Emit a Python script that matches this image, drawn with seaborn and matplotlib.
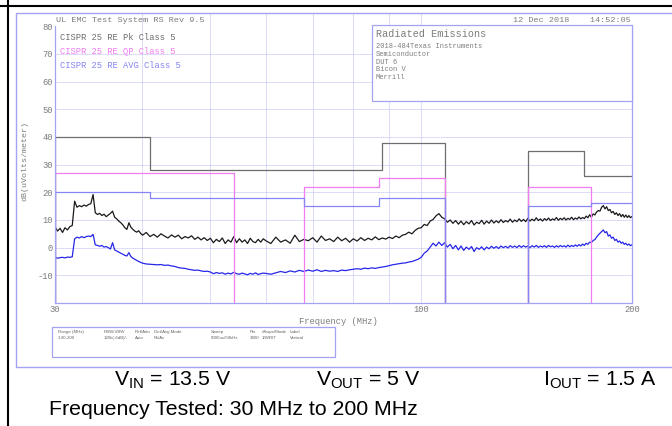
"""Radiated emissions scan (CISPR 25 class 5) redrawn with seaborn."""

import matplotlib
matplotlib.use("Agg")
import matplotlib.pyplot as plt
from matplotlib.lines import Line2D
from matplotlib.patches import Rectangle
from matplotlib.ticker import NullLocator
import pandas as pd
import seaborn as sns

W, H = 672, 426

# sweep frequencies (MHz) and the levels
FREQ_MHZ = [
    30, 30.25, 30.5, 30.75, 31, 31.25, 31.5, 31.75, 32, 32.25,
    32.5, 32.75, 33, 33.25, 33.5, 33.75, 34, 34.25, 34.5, 34.75,
    35, 35.25, 35.5, 35.75, 36, 36.25, 36.5, 36.75, 37, 37.25,
    37.5, 37.75, 38, 38.25, 38.5, 38.75, 39, 39.25, 39.5, 39.75,
    40, 40.5, 41, 41.5, 42, 42.5, 43, 43.5, 44, 44.5,
    45, 45.5, 46, 46.5, 47, 47.5, 48, 48.5, 49, 49.5,
    50, 50.5, 51, 51.5, 52, 52.5, 53, 53.5, 54, 54.5,
    55, 55.5, 56, 56.5, 57, 57.5, 58, 58.5, 59, 59.5,
    60, 61, 62, 63, 64, 65, 66, 67, 68, 69,
    70, 71, 72, 73, 74, 75, 76, 77, 78, 79,
    80, 81, 82, 83, 84, 85, 86, 87, 88, 89,
    90, 91, 92, 93, 94, 95, 96, 97, 98, 99,
    100, 101, 102, 103, 104, 105, 106, 107, 108, 109,
    110, 111, 112, 113, 114, 115, 116, 117, 118, 119,
    120, 121, 122, 123, 124, 125, 126, 127, 128, 129,
    130, 131, 132, 133, 134, 135, 136, 137, 138, 139,
    140, 141, 142, 143, 144, 145, 146, 147, 148, 149,
    150, 151, 152, 153, 154, 155, 156, 157, 158, 159,
    160, 161, 162, 163, 164, 165, 166, 167, 168, 169,
    170, 171, 172, 173, 174, 175, 176, 177, 178, 179,
    180, 181, 182, 183, 184, 185, 186, 187, 188, 189,
    190, 191, 192, 193, 194, 195, 196, 197, 198, 199,
    200,
]

PEAK_DBUV = [
    7.5, 6.0, 7.0, 5.5, 7.2, 6.4, 7.6, 8.0, 16.8, 14.6,
    15.2, 14.8, 15.4, 15.0, 15.6, 15.9, 19.2, 12.6, 12.0, 12.4,
    11.6, 12.1, 11.2, 11.8, 12.4, 13.2, 11.0, 10.4, 9.6, 9.0,
    8.2, 7.2, 6.6, 9.0, 7.4, 6.6, 6.0, 5.6, 6.1, 5.2,
    4.5, 5.5, 4.0, 4.8, 3.8, 5.0, 4.2, 3.5, 4.6, 3.8,
    4.5, 3.2, 4.0, 3.5, 4.3, 3.0, 3.8, 2.8, 3.6, 2.6,
    3.4, 1.8, 3.0, 2.2, 3.5, 1.5, 2.8, 2.0, 4.0, 1.8,
    3.2, 2.0, 2.8, 1.5, 3.4, 2.2, 1.8, 3.0, 2.0, 3.2,
    2.5, 1.5, 3.8, 2.0, 2.8, 1.6, 4.5, 2.2, 3.0, 2.5,
    3.6, 2.0, 4.2, 2.6, 3.2, 2.2, 3.8, 2.5, 3.4, 2.0,
    3.2, 2.4, 3.6, 2.6, 3.4, 2.8, 3.9, 2.9, 3.5, 3.1,
    3.8, 3.3, 4.2, 3.6, 4.5, 4.8, 5.6, 5.0, 6.2, 7.0,
    7.2, 8.4, 8.0, 9.6, 10.2, 11.5, 12.3, 11.0, 10.4, 9.2,
    10.0, 8.8, 9.8, 8.5, 9.6, 8.3, 9.4, 8.6, 9.8, 8.2,
    9.2, 8.7, 9.9, 8.5, 9.6, 8.8, 10.0, 8.9, 9.7, 9.0,
    10.1, 9.1, 9.8, 9.3, 10.3, 9.2, 10.0, 9.4, 10.4, 9.5,
    10.2, 9.4, 10.6, 9.6, 10.3, 9.7, 10.8, 9.8, 10.4, 9.6,
    10.5, 9.9, 10.7, 9.8, 10.4, 10.0, 10.9, 9.9, 10.6, 10.1,
    10.8, 10.0, 10.6, 10.2, 11.0, 10.1, 10.7, 10.3, 11.1, 10.4,
    10.9, 10.5, 11.4, 10.8, 11.9, 11.0, 12.2, 11.8, 12.9, 13.4,
    13.2, 14.6, 15.2, 14.0, 14.8, 13.4, 13.8, 12.6, 13.1, 12.0,
    12.6, 11.6, 12.3, 11.2, 12.0, 11.0, 11.8, 10.9, 11.6, 10.8,
    11.3,
]

AVG_DBUV = [
    -3.5, -3.8, -3.6, -3.5, -3.7, -3.4, -3.5, -3.3, 3.2, 3.8,
    3.5, 4.0, 3.6, 4.0, 4.2, 4.0, 4.8, 1.0, 0.8, 0.5,
    0.8, 0.2, 0.4, 0.0, -0.5, 1.8, -0.8, -1.2, -1.6, -2.0,
    -2.4, -2.8, -3.0, -1.8, -3.2, -3.8, -4.2, -4.6, -5.0, -5.3,
    -5.6, -5.9, -6.0, -6.1, -6.2, -6.1, -6.4, -6.3, -6.6, -6.8,
    -7.2, -7.4, -7.5, -7.8, -8.0, -8.2, -8.1, -8.4, -8.6, -8.5,
    -8.8, -9.4, -9.0, -9.3, -9.1, -9.6, -9.2, -9.5, -8.9, -9.4,
    -9.6, -9.2, -9.5, -9.8, -9.3, -9.6, -9.1, -9.7, -9.4, -9.2,
    -9.3, -9.6, -9.1, -8.6, -9.0, -8.4, -8.8, -8.2, -8.6, -8.1,
    -8.5, -8.0, -8.6, -8.2, -8.5, -8.3, -8.6, -8.1, -8.3, -8.0,
    -7.8, -7.6, -7.8, -7.4, -7.6, -7.3, -7.5, -7.2, -7.0, -6.8,
    -6.5, -6.2, -6.0, -5.8, -5.6, -5.5, -5.2, -5.0, -4.6, -4.2,
    -3.5, -2.0, -1.2, 0.2, 1.6, 0.6, 2.0, 0.8, 1.8, 0.2,
    1.2, -0.4, 0.8, -0.8, 0.6, -1.0, 0.2, -0.6, 0.4, -1.4,
    0.0, -0.6, 0.3, -0.8, 0.2, -0.4, 0.5, -0.2, 0.4, -0.3,
    0.6, 0.0, 0.5, -0.1, 0.7, 0.1, 0.6, 0.0, 0.8, 0.1,
    0.7, 0.2, 0.6, 0.0, 0.7, 0.2, 0.8, 0.1, 0.6, 0.2,
    0.7, 0.1, 0.8, 0.3, 0.6, 0.1, 0.7, 0.2, 0.8, 0.3,
    0.7, 0.2, 0.9, 0.3, 0.8, 0.4, 1.0, 0.5, 1.1, 0.6,
    1.3, 0.8, 1.6, 1.2, 2.0, 1.8, 2.6, 2.9, 3.8, 4.6,
    5.2, 5.8, 6.4, 5.4, 5.8, 4.2, 4.6, 3.4, 3.8, 2.6,
    3.0, 2.0, 2.4, 1.6, 2.0, 1.2, 1.6, 0.9, 1.3, 0.7,
    1.1,
]

# limit bands: (start MHz, stop MHz, level dB(uV/m))
PK_LIMIT = [(30, 41, 40), (41, 88, 28), (88, 108, 38), (142, 171, 35), (171, 200, 26)]
QP_LIMIT = [(30, 54, 27), (68, 87, 22), (87, 108, 25), (142, 175, 22)]
AVG_LIMIT = [(30, 41, 20), (41, 68, 18), (68, 87, 15), (87, 108, 18), (142, 175, 15), (175, 200, 16)]

LEGEND = ["CISPR 25 RE Pk Class 5", "CISPR 25 RE QP Class 5", "CISPR 25 RE AVG Class 5"]
X_TICKS = [30, 100, 200]
Y_TICKS = [-20, -10, 0, 10, 20, 30, 40, 50, 60, 70, 80]
Y_LABELS = ["", "-10", "0", "10", "20", "30", "40", "50", "60", "70", "80"]
GRID_MHZ = [40, 50, 60, 70, 80, 90, 100]
GRID_DB = [-10, 0, 10, 20, 30, 40, 50, 60, 70]

INFO_HEAD = ["Range (MHz)", "RBW/VBW", "Ref/Attn", "Det/Avg Mode", "Sweep", "Pts.", "#Swps/Mode", "Label"]
INFO_VALS = ["1:30-200", "120k(-6dB)/-", "Auto", "Pk/Av", "5000us/50kHz", "3400", "1/WRIT", "Vertical"]
BOX_LINES = ["2018-484Texas Instruments", "Semiconductor", "DUT 6", "Bicon V", "Merrill"]

FRAME = "#a3a3f2"
GRID = "#9d9df0"
TXT = "#7c7c7c"
PK_COL = "#6e6e6e"
QP_COL = "#f07cf0"
AVG_COL = "#8585f5"


def limit_frame(bands, floor=-20.0, fmax=200):
    """Turn a list of limit bands into step vertices, one unit per joined run."""
    rows = []
    seg = 0
    prev_stop = None
    for start, stop, level in bands:
        if prev_stop is None:
            rows.append((start, floor, seg))
        elif start != prev_stop:
            rows.append((prev_stop, floor, seg))
            seg += 1
            rows.append((start, floor, seg))
        rows.append((start, level, seg))
        rows.append((stop, level, seg))
        prev_stop = stop
    if prev_stop < fmax:
        rows.append((prev_stop, floor, seg))
    return pd.DataFrame(rows, columns=["freq", "level", "seg"])


def fx(px):
    return px / W


def fy(py):
    return 1 - py / H


sns.set_style("white")
plt.rcParams["font.family"] = ["Liberation Mono", "DejaVu Sans Mono"]
plt.rcParams["mathtext.fontset"] = "custom"
plt.rcParams["mathtext.rm"] = "Liberation Sans"
plt.rcParams["mathtext.it"] = "Liberation Sans:italic"
plt.rcParams["mathtext.bf"] = "Liberation Sans:bold"

fig = plt.figure(figsize=(W / 100, H / 100), dpi=100)
ax = fig.add_axes([fx(55), fy(303), fx(632) - fx(55), fy(13) - fy(303)])
ax.set_xscale("log")
ax.set_xlim(30, 200)
ax.set_ylim(-20, 84.8)

for f in GRID_MHZ:
    ax.axvline(f, color=GRID, lw=0.6, ls=(0, (1, 1.4)), zorder=0.5)
for d in GRID_DB:
    ax.axhline(d, color=GRID, lw=0.6, ls=(0, (1, 1.4)), zorder=0.5)

sns.lineplot(x=FREQ_MHZ, y=PEAK_DBUV, color="#1a1a1a", lw=0.9,
             estimator=None, sort=False, ax=ax)
sns.lineplot(x=FREQ_MHZ, y=AVG_DBUV, color="#2626ea", lw=0.9,
             estimator=None, sort=False, ax=ax)

for bands, col in [(PK_LIMIT, PK_COL), (QP_LIMIT, QP_COL), (AVG_LIMIT, AVG_COL)]:
    sns.lineplot(data=limit_frame(bands), x="freq", y="level", units="seg",
                 estimator=None, sort=False, color=col, lw=0.9, ax=ax, legend=False)

for side in ["left", "right", "bottom"]:
    ax.spines[side].set_color(FRAME)
    ax.spines[side].set_linewidth(0.9)
ax.spines["left"].set_bounds(-20, 80)
ax.spines["right"].set_bounds(-20, 80)
ax.spines["top"].set_visible(False)

ax.set_xticks(X_TICKS)
ax.set_xticklabels([str(t) for t in X_TICKS])
ax.xaxis.set_minor_locator(NullLocator())
ax.set_yticks(Y_TICKS)
ax.set_yticklabels(Y_LABELS)
ax.tick_params(length=0, labelsize=6.3, labelcolor=TXT, pad=1.5)
ax.set_xlabel("")
ax.set_ylabel("")

# page furniture: black rules, outer frame, header, legend, info boxes
fig.add_artist(Line2D([0, 1], [fy(6), fy(6)], color="black", lw=1.5))
fig.add_artist(Line2D([fx(8), fx(8)], [0, 1], color="black", lw=1.5))
fig.add_artist(Rectangle((fx(16), fy(367)), 1.0, fy(13) - fy(367), transform=fig.transFigure,
                         fill=False, ec=FRAME, lw=1.0))
fig.add_artist(Rectangle((fx(372), fy(101)), fx(632) - fx(372), fy(25) - fy(101),
                         transform=fig.transFigure, fc="white", ec=FRAME, lw=0.9))
fig.add_artist(Rectangle((fx(52), fy(357)), fx(335) - fx(52), fy(327) - fy(357),
                         transform=fig.transFigure, fc="white", ec=FRAME, lw=0.9))

fig.text(fx(56), fy(20), "UL EMC Test System RS Rev 9.5", fontsize=6.1, color=TXT, va="center")
fig.text(fx(631), fy(20), "12 Dec 2018    14:52:05", fontsize=6.1, color=TXT, va="center", ha="right")
for i, (label, col) in enumerate(zip(LEGEND, [PK_COL, QP_COL, AVG_COL])):
    fig.text(fx(60), fy(38 + 14 * i), label, fontsize=6.3, color=col, va="center")

fig.text(fx(376), fy(34), "Radiated Emissions", fontsize=7.3, color=TXT, va="center")
for i, line in enumerate(BOX_LINES):
    fig.text(fx(376), fy(47 + 7.6 * i), line, fontsize=5.0, color=TXT, va="center")

fig.text(fx(25), fy(161), "dB(uVolts/meter)", fontsize=6.0, color=TXT, rotation=90,
         va="center", ha="center")
fig.text(fx(338), fy(321), "Frequency (MHz)", fontsize=6.3, color=TXT, va="center", ha="center")

for x, head, val in zip([58, 104, 135, 154, 211, 250, 262, 290], INFO_HEAD, INFO_VALS):
    fig.text(fx(x), fy(332), head, fontsize=3.2, color="#666666", va="center",
             family=["Liberation Sans", "DejaVu Sans"])
    fig.text(fx(x), fy(338), val, fontsize=3.2, color="#666666", va="center",
             family=["Liberation Sans", "DejaVu Sans"])

big = dict(fontsize=15.3, color="black", va="baseline", family=["Liberation Sans", "DejaVu Sans"])
fig.text(fx(114), fy(386), r"V$_{\mathrm{IN}}$ = 13.5 V", **big)
fig.text(fx(316), fy(386), r"V$_{\mathrm{OUT}}$ = 5 V", **big)
fig.text(fx(543), fy(386), r"I$_{\mathrm{OUT}}$ = 1.5 A", **big)
fig.text(fx(49), fy(415), "Frequency Tested: 30 MHz to 200 MHz", **big)

fig.savefig("out.png", dpi=100)
plt.close(fig)
